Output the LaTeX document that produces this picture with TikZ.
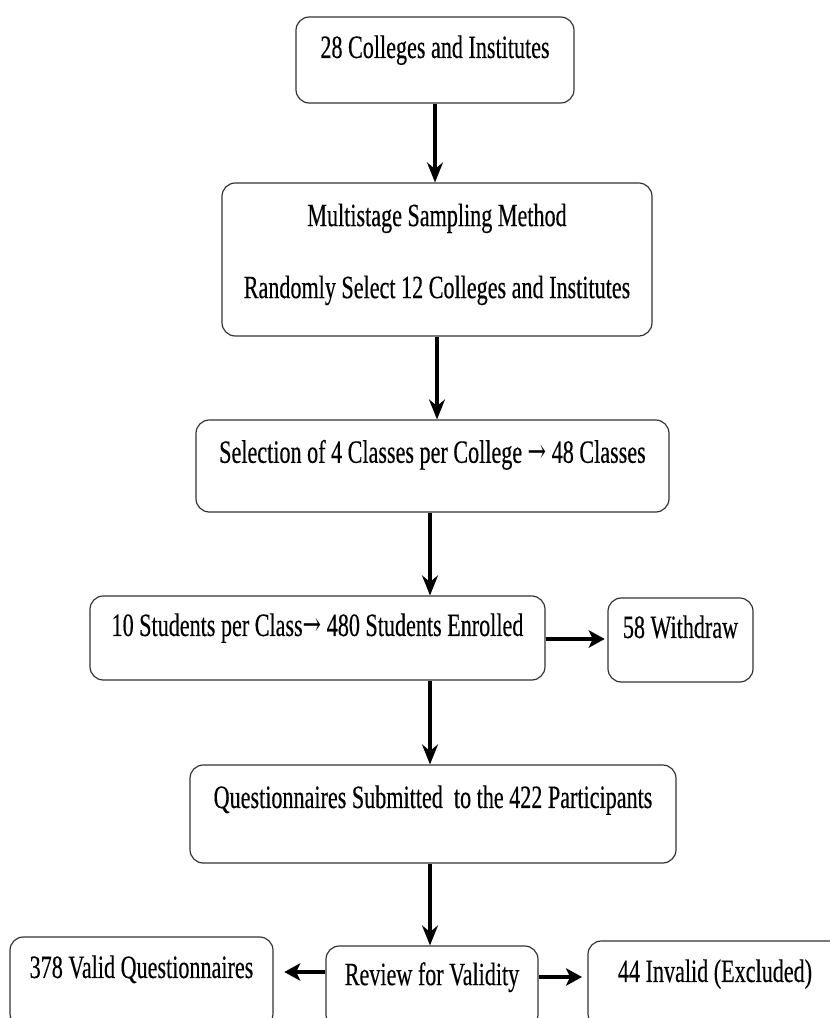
\documentclass[tikz,border=0pt]{standalone}
\usepackage{fontspec}
\setmainfont{Liberation Serif}
\newfontfamily\boxfont{Liberation Serif}[FakeStretch=0.68,FakeBold=0.3]
\newfontfamily\arrowfont{DejaVu Serif}[FakeStretch=0.68]
\newcommand{\toarrow}{{\arrowfont →}}
\usetikzlibrary{arrows.meta}

\begin{document}
\begin{tikzpicture}[x=0.75pt,y=-0.75pt,
        box/.style={draw=black!80, line width=0.9pt, rounded corners=10pt, align=center, inner sep=0pt, text depth=20pt, font=\boxfont\fontsize{24.4}{29}\selectfont},
        down/.style={line width=2.4pt, -{Stealth[length=15pt,width=12pt,inset=5pt]}},
        side/.style={line width=3.6pt, -{Stealth[length=12pt,width=13pt,inset=3pt]}}]
        \useasboundingbox (0,0) rectangle (829,1018);
        
        \node[box, minimum width=208.5pt, minimum height=64.5pt] (colleges) at (435,60) {28 Colleges and Institutes};
        \node[box, minimum width=322.5pt, minimum height=114.75pt, text depth=13pt] (sampling) at (437,259.5) {Multistage Sampling Method\\[25pt] Randomly Select 12 Colleges and Institutes};
        \node[box, minimum width=354.75pt, minimum height=69pt, text depth=22pt] (classes) at (432.5,466) {Selection of 4 Classes per College \toarrow{} 48 Classes};
        \node[box, minimum width=341.25pt, minimum height=63pt] (students) at (317.5,638) {10 Students per Class\toarrow{} 480 Students Enrolled};
        \node[box, minimum width=108.75pt, minimum height=63pt] (withdraw) at (680.5,640) {58 Withdraw};
        \node[box, minimum width=364.5pt, minimum height=73.5pt, text depth=26pt] (submitted) at (433,814) {Questionnaires Submitted\ \ to the 422 Participants};
        \node[box, minimum width=197.25pt, minimum height=67.5pt, text depth=23pt] (valid) at (141.5,982) {378 Valid Questionnaires};
        \node[box, minimum width=159pt, minimum height=61.5pt, text depth=20pt] (review) at (432,987) {Review for Validity};
        \node[box, minimum width=190.5pt, minimum height=64.5pt, text depth=20pt] (invalid) at (715,984) {44 Invalid (Excluded)};
        
        % arrow levels
        \coordinate (w) at (0,639);
        \coordinate (l) at (0,972);
        \coordinate (r) at (0,977);
        
        \draw[down] (colleges) -- (colleges |- sampling.north);
        \draw[down] (sampling) -- (sampling |- classes.north);
        \draw[down] (classes.south) ++(-2.5,0) coordinate (c1) -- (c1 |- students.north);
        \draw[down] (c1 |- students.south) -- (c1 |- submitted.north);
        \draw[down] (c1 |- submitted.south) -- (c1 |- review.north);
        \draw[side] (students.east |- w) -- ([xshift=-2pt]withdraw.west |- w);
        \draw[side] (review.west |- l) -- ([xshift=8pt]valid.east |- l);
        \draw[side] (review.east |- r) -- ([xshift=-4pt]invalid.west |- r);
\end{tikzpicture}
\end{document}
